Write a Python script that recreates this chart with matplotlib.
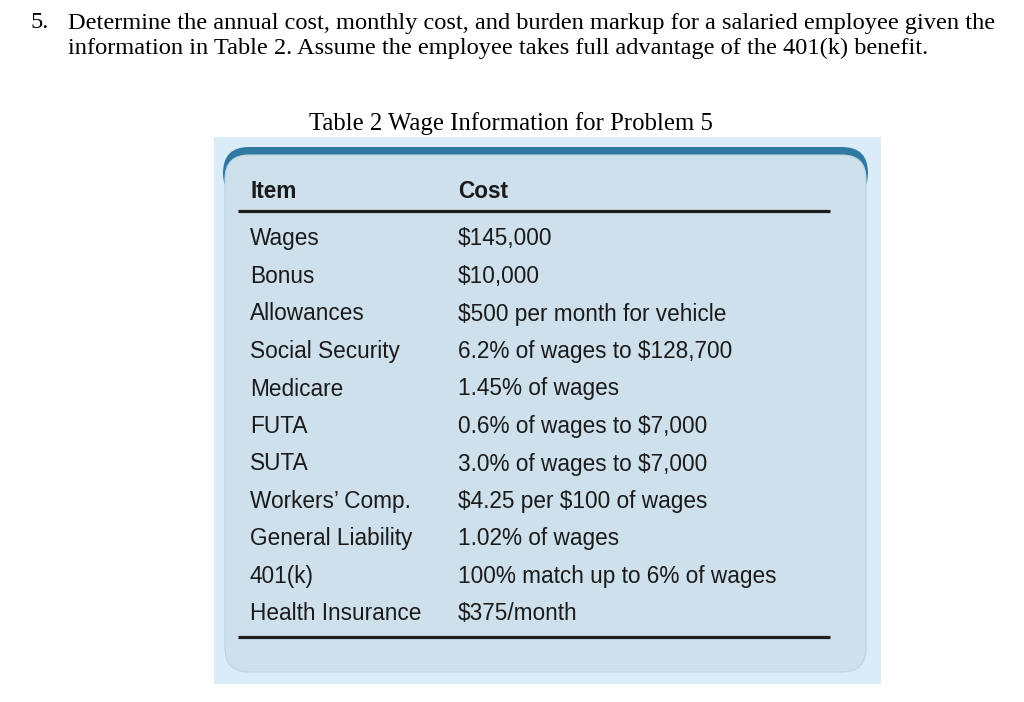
import matplotlib.pyplot as plt
from matplotlib.patches import FancyBboxPatch, Rectangle

plt.rcParams['text.parse_math'] = False

question = ["Determine the annual cost, monthly cost, and burden markup for a salaried employee given the",
            "information in Table 2. Assume the employee takes full advantage of the 401(k) benefit."]
table_title = "Table 2 Wage Information for Problem 5"
headers = ["Item", "Cost"]
items = ["Wages", "Bonus", "Allowances", "Social Security", "Medicare", "FUTA", "SUTA",
         "Workers\u2019 Comp.", "General Liability", "401(k)", "Health Insurance"]
costs = ["$145,000", "$10,000", "$500 per month for vehicle", "6.2% of wages to $128,700",
         "1.45% of wages", "0.6% of wages to $7,000", "3.0% of wages to $7,000",
         "$4.25 per $100 of wages", "1.02% of wages", "100% match up to 6% of wages", "$375/month"]

fig = plt.figure(figsize=(10.24, 7.02), dpi=100)
ax = fig.add_axes([0, 0, 1, 1])
ax.set_xlim(0, 1024)
ax.set_ylim(702, 0)
ax.axis('off')

serif = 'Liberation Serif'
sans = 'Liberation Sans'

# question text
ax.text(30, 23, "5.", fontsize=17.6, family=serif, va='center', ha='left')
for i, line in enumerate(question):
    ax.text(68, 23 + i * 25, line, fontsize=17.6, family=serif, va='center', ha='left')

ax.text(511, 124, table_title, fontsize=17.8, family=serif, va='center', ha='center')

# background panel
ax.add_patch(Rectangle((214, 137), 667, 547, facecolor='#d9ecf8', edgecolor='none'))
# dark top border
ax.add_patch(FancyBboxPatch((223, 147), 645, 52, boxstyle='round,pad=0,rounding_size=26',
                            facecolor='#2f78a2', edgecolor='none'))
# inner box
ax.add_patch(FancyBboxPatch((225, 155), 641, 517, boxstyle='round,pad=0,rounding_size=24',
                            facecolor='#cde0ec', edgecolor='#bcd3e2', linewidth=0.8))

col_x = [250, 458]
for x, h in zip(col_x, headers):
    ax.text(x, 192, h, fontsize=16.3, family=sans, weight='bold', va='center', ha='left',
            color='#1a1a1a')

ax.plot([238, 830], [211, 211], color='#1e1e1e', lw=2.3, solid_capstyle='butt')
ax.plot([238, 830], [637, 637], color='#1e1e1e', lw=2.3, solid_capstyle='butt')

row_y0 = 239
row_h = 37.5
for i, (it, c) in enumerate(zip(items, costs)):
    y = row_y0 + i * row_h
    ax.text(col_x[0], y, it, fontsize=16.3, family=sans, va='center', ha='left', color='#1a1a1a')
    ax.text(col_x[1], y, c, fontsize=16.3, family=sans, va='center', ha='left', color='#1a1a1a')

fig.savefig('out.png', dpi=100)
